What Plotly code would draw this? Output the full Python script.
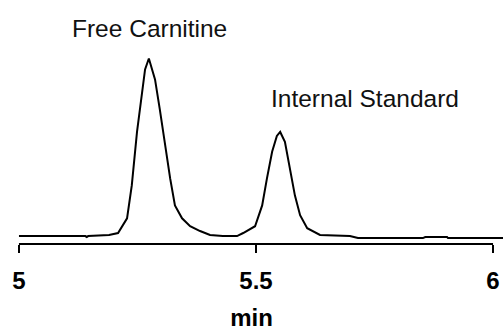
import plotly.graph_objects as go

# Chromatogram data (retention time in min, relative intensity)
time_min = [5.000, 5.140, 5.143, 5.146, 5.190, 5.209, 5.228, 5.238, 5.249, 5.259,
            5.266, 5.274, 5.287, 5.297, 5.308, 5.319, 5.329, 5.344, 5.361, 5.382,
            5.403, 5.430, 5.460, 5.473, 5.498, 5.513, 5.523, 5.534, 5.544, 5.551,
            5.561, 5.572, 5.582, 5.593, 5.608, 5.635, 5.698, 5.715, 5.852, 5.857,
            5.903, 5.905, 6.021]
intensity = [1.1, 1.1, 0.6, 1.1, 1.7, 2.8, 11.0, 29.3, 59.1, 79.0,
             93.9, 100.0, 88.4, 71.8, 51.4, 33.1, 18.2, 11.0, 6.6, 3.9,
             1.7, 1.1, 1.1, 2.8, 6.6, 18.2, 33.1, 48.1, 56.9, 59.1,
             53.6, 38.7, 23.8, 12.7, 5.5, 1.7, 1.1, 0.0, 0.0, 0.6,
             0.6, 0.0, 0.0]

tick_vals = [5, 5.5, 6]
tick_text = ["5", "5.5", "6"]
x_title = "min"

peak_labels = ["Free Carnitine", "Internal Standard"]
peak_label_x = [5.276, 5.729]
peak_label_y = [117.0, 77.5]

fig = go.Figure()
fig.add_trace(go.Scatter(x=time_min, y=intensity, mode="lines",
                         line=dict(color="black", width=2), showlegend=False,
                         hoverinfo="skip"))

for txt, xx, yy in zip(peak_labels, peak_label_x, peak_label_y):
    fig.add_annotation(x=xx, y=yy, xref="x", yref="y", text=txt, showarrow=False,
                       xanchor="center", yanchor="middle",
                       font=dict(family="Liberation Sans, Arial", size=24.5, color="#111"))

# axis baseline spanning 5 to 6 only
fig.add_shape(type="line", xref="x", yref="paper", x0=tick_vals[0], x1=tick_vals[-1],
              y0=0, y1=0, line=dict(color="black", width=2))

fig.update_layout(
    width=503, height=331,
    margin=dict(l=0, r=0, t=0, b=85),
    paper_bgcolor="white", plot_bgcolor="white",
    xaxis=dict(range=[4.96, 6.021], showgrid=False, zeroline=False, showline=False,
               tickmode="array", tickvals=tick_vals, ticktext=tick_text,
               ticks="outside", ticklen=8, tickwidth=2, tickcolor="black",
               ticklabelstandoff=7,
               tickfont=dict(family="Liberation Sans, Arial", size=24, color="black",
                             weight="bold"),
               title=dict(text=x_title, standoff=20,
                          font=dict(family="Liberation Sans, Arial", size=24,
                                    color="black", weight="bold"))),
    yaxis=dict(range=[-3.315, 132.6], visible=False, showgrid=False, zeroline=False),
)

fig.write_html("out.html")
